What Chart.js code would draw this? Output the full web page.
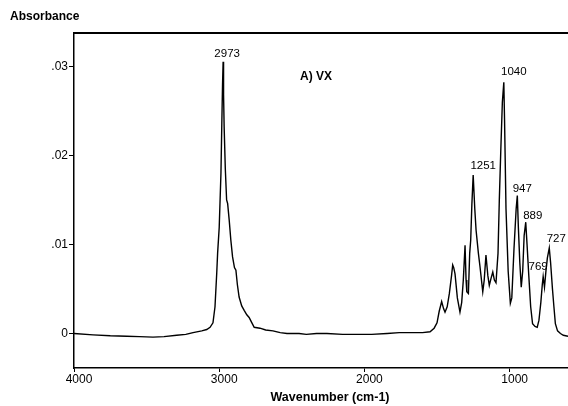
<!DOCTYPE html>
<html>
<head>
<meta charset="utf-8">
<script src="https://cdn.jsdelivr.net/npm/chart.js@4/dist/chart.umd.min.js"></script>
<style>
  html, body { margin: 0; padding: 0; background: #fff; }
  #wrap { width: 568px; height: 406px; position: relative; }
</style>
</head>
<body>
<div id="wrap"><canvas id="c" width="568" height="406"></canvas></div>
<script>
// ---- data ----
const wavenumber = [
  4000, 3869, 3750, 3637, 3550, 3456, 3380, 3293, 3230, 3180, 3120, 3086, 3063, 3043,
  3029, 3017, 3011, 3000, 2988, 2982, 2977, 2973, 2970, 2966, 2958, 2949, 2942, 2931,
  2920, 2908, 2895, 2885, 2875, 2863, 2845, 2828, 2810, 2794, 2775, 2759, 2719, 2680,
  2630, 2580, 2533, 2450, 2400, 2330, 2258, 2150, 2030, 1950, 1844, 1760, 1686, 1600,
  1548, 1520, 1500, 1485, 1468, 1455, 1445, 1430, 1415, 1400, 1392, 1385, 1376, 1360,
  1342, 1330, 1319, 1307, 1300, 1295, 1284, 1275, 1268, 1260, 1251, 1240, 1231, 1215,
  1204, 1185, 1175, 1163, 1150, 1140, 1128, 1116, 1105, 1094, 1080, 1071, 1060, 1050,
  1040, 1035, 1025, 1010, 995, 985, 970, 955, 947, 940, 930, 920, 910, 900,
  889, 880, 868, 855, 842, 825, 810, 798, 785, 775, 769, 760, 750, 740,
  727, 718, 705, 695, 685, 670, 650, 630, 598
];
const absorbance = [
  0.0000, -0.00015, -0.00025, -0.0003, -0.00035, -0.0004, -0.00035, -0.0002, -0.0001, 0.0001, 0.0003, 0.00045, 0.0007, 0.0012,
  0.0030, 0.0068, 0.0090, 0.0119, 0.0180, 0.0236, 0.0280, 0.0305, 0.0268, 0.0232, 0.0185, 0.0150, 0.0146, 0.0127,
  0.0105, 0.0086, 0.0074, 0.0071, 0.0055, 0.0041, 0.0031, 0.0026, 0.0021, 0.0018, 0.0012, 0.0007, 0.0006, 0.0004,
  0.0003, 0.0001, 0.0000, 0.0000, -0.0001, 0.0000, 0.0000, -0.0001, -0.0001, -0.0001, 0.0000, 0.0001, 0.0001, 0.0001,
  0.0002, 0.0006, 0.0012, 0.0025, 0.0036, 0.0028, 0.0024, 0.0030, 0.0045, 0.0065, 0.0077, 0.0074, 0.0067, 0.0040,
  0.0024, 0.0035, 0.0060, 0.0099, 0.0060, 0.0047, 0.0045, 0.0090, 0.0105, 0.0145, 0.0178, 0.0140, 0.0116, 0.0090,
  0.0075, 0.0047, 0.0060, 0.0088, 0.0065, 0.0054, 0.0062, 0.0069, 0.0060, 0.0057, 0.0090, 0.0150, 0.0210, 0.0260,
  0.0282, 0.0240, 0.0140, 0.0070, 0.0034, 0.0040, 0.0095, 0.0140, 0.0155, 0.0120, 0.0080, 0.0052, 0.0070, 0.0110,
  0.0125, 0.0100, 0.0065, 0.0030, 0.0011, 0.0008, 0.0007, 0.0015, 0.0035, 0.0055, 0.0064, 0.0052, 0.0070, 0.0085,
  0.0096, 0.0080, 0.0050, 0.0030, 0.0011, 0.0003, 0.0000, -0.0002, -0.0003
];
const peakWn  = [2973, 1251, 1040, 947, 889, 769, 727];
const peakAbs = [0.0305, 0.0178, 0.0282, 0.0155, 0.0125, 0.0064, 0.0096];
const peakText = ["2973", "1251", "1040", "947", "889", "769", "727"];
const xTickValues = [4000, 3000, 2000, 1000];
const yTickValues = [0, 0.01, 0.02, 0.03];
const yTickLabels = ["0", ".01", ".02", ".03"];
const yAxisTitle = "Absorbance";
const xAxisTitle = "Wavenumber (cm-1)";
const sampleTitle = "A) VX";

// ---- styling (pixel offsets for annotations) ----
const peakLabelOffsets = [[4, -8], [10, -9], [10, -11], [5, -7], [7, -6], [-5, -10], [7, -9]];
const FONT = "'Liberation Sans', Arial, sans-serif";

const points = wavenumber.map((w, i) => ({ x: w, y: absorbance[i] }));

const annotations = {
  id: 'annotations',
  afterDraw(chart) {
    const ctx = chart.ctx;
    const xs = chart.scales.x, ys = chart.scales.y;
    const a = chart.chartArea;
    ctx.save();
    // top frame line
    ctx.strokeStyle = '#000';
    ctx.lineWidth = 2;
    ctx.beginPath();
    ctx.moveTo(a.left - 1, a.top);
    ctx.lineTo(a.right, a.top);
    ctx.stroke();
    ctx.fillStyle = '#000';
    // peak labels
    ctx.font = '11.5px ' + FONT;
    ctx.textAlign = 'center';
    ctx.textBaseline = 'middle';
    peakWn.forEach((w, i) => {
      const px = xs.getPixelForValue(w) + peakLabelOffsets[i][0];
      const py = ys.getPixelForValue(peakAbs[i]) + peakLabelOffsets[i][1];
      ctx.fillText(peakText[i], px, py);
    });
    // y-axis title (top-left)
    ctx.font = 'bold 12px ' + FONT;
    ctx.textAlign = 'left';
    ctx.fillText(yAxisTitle, 10, 17);
    // sample title
    ctx.font = 'bold 12px ' + FONT;
    ctx.textAlign = 'center';
    ctx.fillText(sampleTitle, 316, 77);
    // x-axis title
    ctx.font = 'bold 12.5px ' + FONT;
    ctx.fillText(xAxisTitle, 330, 398);
    ctx.restore();
  }
};

new Chart(document.getElementById('c'), {
  type: 'line',
  data: {
    datasets: [{
      data: points,
      borderColor: '#000',
      borderWidth: 1.4,
      pointRadius: 0,
      tension: 0,
      fill: false
    }]
  },
  options: {
    responsive: false,
    animation: false,
    events: [],
    layout: { padding: { top: 33, left: 0, right: 0, bottom: 0 } },
    plugins: { legend: { display: false }, tooltip: { enabled: false } },
    scales: {
      x: {
        type: 'linear',
        reverse: true,
        min: 598,
        max: 4000,
        afterBuildTicks(scale) { scale.ticks = xTickValues.map(v => ({ value: v })); },
        afterFit(scale) { scale.height = 38; scale.paddingLeft = 0; scale.paddingRight = 0; },
        grid: { display: true, drawOnChartArea: false, drawTicks: true, tickLength: 4, color: '#000', lineWidth: 1 },
        border: { display: true, color: '#000', width: 1.5 },
        ticks: {
          color: '#000',
          font: { family: FONT, size: 12 },
          padding: 0,
          maxRotation: 0,
          labelOffset: 5,
          callback: (v) => String(v)
        }
      },
      y: {
        type: 'linear',
        min: -0.00387,
        max: 0.03374,
        afterBuildTicks(scale) { scale.ticks = yTickValues.map(v => ({ value: v })); },
        afterFit(scale) { scale.width = 74; },
        grid: { display: true, drawOnChartArea: false, drawTicks: true, tickLength: 5, color: '#000', lineWidth: 1 },
        border: { display: true, color: '#000', width: 1.5 },
        ticks: {
          color: '#000',
          font: { family: FONT, size: 12 },
          padding: 1,
          callback: (v) => { const i = yTickValues.indexOf(v); return i >= 0 ? yTickLabels[i] : ''; }
        }
      }
    }
  },
  plugins: [annotations]
});
</script>
</body>
</html>
